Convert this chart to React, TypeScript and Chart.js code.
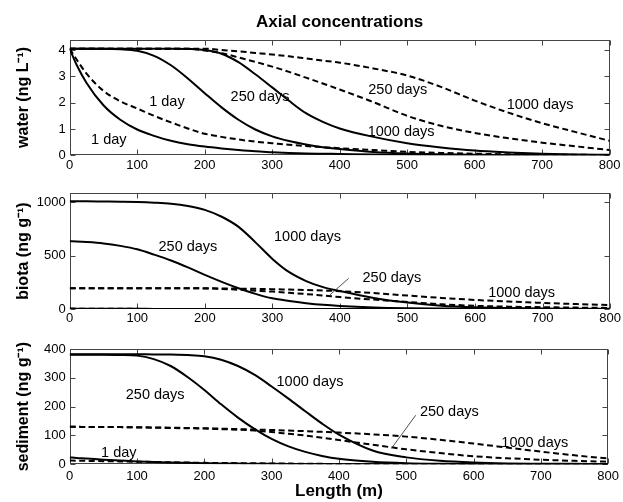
import React, { useEffect, useRef } from 'react';
import { Chart, registerables } from 'chart.js';

Chart.register(...registerables);

const FONT = '"Liberation Sans", Arial, Helvetica, sans-serif';

// Shared length grid (m)
const xGrid = [0, 10, 25, 50, 75, 100, 125, 150, 175, 200, 225, 250, 275, 300, 325, 350, 375, 400, 450, 500, 550, 600, 650, 700, 750, 800];
const xTickValues = [0, 100, 200, 300, 400, 500, 600, 700, 800];

// Water (ng L-1)
const water1DaySolid = [4.05, 3.45, 2.75, 1.9, 1.35, 0.98, 0.74, 0.55, 0.42, 0.33, 0.26, 0.2, 0.15, 0.12, 0.09, 0.07, 0.06, 0.05, 0.03, 0.02, 0.01, 0.01, 0, 0, 0, 0];
const water1DayDashed = [4.05, 3.65, 3.1, 2.45, 2.05, 1.78, 1.5, 1.25, 1.02, 0.82, 0.7, 0.6, 0.52, 0.46, 0.4, 0.35, 0.31, 0.27, 0.2, 0.13, 0.09, 0.06, 0.04, 0.03, 0.02, 0.01];
const water250Solid = [4.05, 4.05, 4.05, 4.05, 4.03, 3.97, 3.78, 3.42, 2.92, 2.36, 1.82, 1.35, 0.98, 0.72, 0.54, 0.41, 0.31, 0.24, 0.13, 0.07, 0.04, 0.02, 0.01, 0.005, 0, 0];
const water1000Solid = [4.05, 4.05, 4.05, 4.05, 4.05, 4.05, 4.05, 4.05, 4.04, 4.0, 3.86, 3.54, 3.08, 2.58, 2.07, 1.6, 1.27, 1.02, 0.7, 0.46, 0.3, 0.18, 0.11, 0.06, 0.03, 0.02];
const water250Dashed = [4.05, 4.05, 4.05, 4.05, 4.05, 4.05, 4.05, 4.05, 4.05, 3.98, 3.88, 3.72, 3.55, 3.37, 3.17, 2.95, 2.73, 2.5, 2.02, 1.5, 1.12, 0.85, 0.65, 0.48, 0.34, 0.2];
const water1000Dashed = [4.05, 4.05, 4.05, 4.05, 4.05, 4.05, 4.05, 4.05, 4.05, 4.05, 4.0, 3.95, 3.89, 3.83, 3.76, 3.68, 3.6, 3.52, 3.3, 3.03, 2.6, 2.08, 1.62, 1.22, 0.88, 0.55];
const waterTicks = [0, 1, 2, 3, 4];

// Biota (ng g-1)
const biota1DaySolid = [4, 3.5, 3, 2.5, 2, 1.5, 1, 0.8, 0.6, 0.5, 0.4, 0.3, 0.2, 0.2, 0.1, 0.1, 0, 0, 0, 0, 0, 0, 0, 0, 0, 0];
const biota1DayDashed = [2, 2, 1.8, 1.6, 1.4, 1.2, 1, 0.9, 0.8, 0.7, 0.6, 0.5, 0.4, 0.3, 0.3, 0.2, 0.2, 0.1, 0.1, 0, 0, 0, 0, 0, 0, 0];
const biota250Solid = [635, 633, 628, 615, 592, 560, 510, 455, 390, 320, 255, 195, 142, 100, 75, 55, 39, 28, 14, 7, 4, 2, 1, 0.5, 0, 0];
const biota1000Solid = [1010, 1010, 1010, 1008, 1006, 1003, 997, 987, 966, 930, 865, 770, 625, 470, 345, 262, 205, 168, 104, 60, 31, 16, 9, 5, 3, 2];
const biota250Dashed = [195, 195, 195, 195, 195, 195, 195, 195, 195, 193, 188, 181, 172, 163, 152, 140, 127, 112, 88, 66, 45, 30, 22, 17, 13, 10];
const biota1000Dashed = [195, 195, 195, 195, 195, 195, 195, 195, 195, 194, 193, 191, 189, 186, 182, 178, 173, 167, 150, 126, 104, 85, 70, 57, 46, 38];
const biotaTicks = [0, 500, 1000];

// Sediment (ng g-1)
const sed1DaySolid = [24, 22, 20, 16, 13, 10, 8, 6, 5, 4, 3, 2.5, 2, 1.5, 1.2, 1, 0.7, 0.5, 0.2, 0, 0, 0, 0, 0, 0, 0];
const sed1DayDashed = [13, 12.5, 12, 11, 10, 9, 8, 7, 6, 5, 4.5, 4, 3.5, 3, 2.5, 2, 1.5, 1, 0.5, 0, 0, 0, 0, 0, 0, 0];
const sed250Solid = [380, 380, 380, 380, 379, 377, 365, 341, 303, 258, 208, 162, 122, 88, 62, 43, 29, 19, 9, 4, 2, 1, 0.5, 0, 0, 0];
const sed1000Solid = [382, 382, 382, 382, 382, 382, 381, 381, 379, 375, 363, 341, 310, 270, 228, 184, 141, 103, 48, 24, 12, 6, 3, 2, 1.5, 1];
const sed250Dashed = [130, 130, 129.5, 129.5, 129, 128, 127, 126, 125, 124, 122, 120, 117, 112, 106, 100, 92, 84, 68, 52, 39, 28, 21, 16, 12, 9];
const sed1000Dashed = [130, 130, 129.5, 129.5, 129, 128.5, 128, 127, 126, 125, 123.5, 122, 120.5, 119, 117, 115, 112.5, 110, 104, 96, 85, 72, 58, 44, 31, 20];
const sedTicks = [0, 100, 200, 300, 400];

// Curve annotations (data coordinates)
const waterLabels = [
  { text: '1 day', x: 58, y: 0.58 },
  { text: '1 day', x: 144, y: 2.03 },
  { text: '250 days', x: 282, y: 2.22 },
  { text: '250 days', x: 486, y: 2.47 },
  { text: '1000 days', x: 697, y: 1.9 },
  { text: '1000 days', x: 491, y: 0.9 },
];
const biotaLabels = [
  { text: '250 days', x: 175, y: 584 },
  { text: '1000 days', x: 352, y: 672 },
  { text: '250 days', x: 477, y: 288 },
  { text: '1000 days', x: 669, y: 147 },
];
const sedLabels = [
  { text: '250 days', x: 127, y: 239 },
  { text: '1000 days', x: 357, y: 285 },
  { text: '250 days', x: 564, y: 181 },
  { text: '1000 days', x: 691, y: 75 },
  { text: '1 day', x: 73, y: 38 },
];
const biotaLeader = [[413, 288], [385, 131]];
const sedLeader = [[514, 170], [478, 55]];

type Lbl = { text: string; x: number; y: number };

function pts(arr: number[]) {
  return xGrid.map((x, i) => ({ x, y: arr[i] }));
}

function ds(arr: number[], dashed: boolean) {
  return {
    data: pts(arr),
    borderColor: '#000',
    borderWidth: 2,
    borderDash: dashed ? [6, 3.5] : [],
    pointRadius: 0,
    fill: false,
    cubicInterpolationMode: 'monotone' as const,
  };
}

function makePlugin(yTicks: number[], labels: Lbl[], leader: number[][] | null) {
  return {
    id: 'frameAndLabels',
    beforeDatasetsDraw(chart: any) {
      const { ctx, chartArea } = chart;
      const { left, right, top, bottom } = chartArea;
      const xs = chart.scales.x;
      const ys = chart.scales.y;
      ctx.save();
      ctx.strokeStyle = '#444';
      ctx.lineWidth = 1;
      const L = Math.round(left) + 0.5, R = Math.round(right) - 0.5;
      const T = Math.round(top) + 0.5, B = Math.round(bottom) - 0.5;
      ctx.strokeRect(L, T, R - L, B - T);
      ctx.beginPath();
      xTickValues.forEach((v) => {
        const px = Math.round(xs.getPixelForValue(v)) + 0.5;
        ctx.moveTo(px, B); ctx.lineTo(px, B - 5);
        ctx.moveTo(px, T); ctx.lineTo(px, T + 5);
      });
      yTicks.forEach((v) => {
        const py = Math.round(ys.getPixelForValue(v)) + 0.5;
        ctx.moveTo(L, py); ctx.lineTo(L + 5, py);
        ctx.moveTo(R, py); ctx.lineTo(R - 5, py);
      });
      ctx.stroke();
      ctx.restore();
    },
    afterDatasetsDraw(chart: any) {
      const { ctx } = chart;
      const xs = chart.scales.x;
      const ys = chart.scales.y;
      ctx.save();
      ctx.fillStyle = '#000';
      ctx.font = `14.5px ${FONT}`;
      ctx.textAlign = 'center';
      ctx.textBaseline = 'middle';
      labels.forEach((l) => {
        ctx.fillText(l.text, xs.getPixelForValue(l.x), ys.getPixelForValue(l.y));
      });
      if (leader) {
        ctx.strokeStyle = '#222';
        ctx.lineWidth = 0.8;
        ctx.beginPath();
        ctx.moveTo(xs.getPixelForValue(leader[0][0]), ys.getPixelForValue(leader[0][1]));
        ctx.lineTo(xs.getPixelForValue(leader[1][0]), ys.getPixelForValue(leader[1][1]));
        ctx.stroke();
      }
      ctx.restore();
    },
  };
}

interface PanelCfg {
  series: { arr: number[]; dashed: boolean }[];
  yMax: number;
  yTicks: number[];
  yTitle: string;
  padTop: number;
  xHeight: number;
  xTickPad: number;
  title?: string;
  xTitle?: string;
  labels: Lbl[];
  leader: number[][] | null;
}

function makeConfig(p: PanelCfg): any {
  return {
    type: 'line',
    data: { datasets: p.series.map((s) => ds(s.arr, s.dashed)) },
    plugins: [makePlugin(p.yTicks, p.labels, p.leader)],
    options: {
      responsive: false,
      animation: false,
      events: [],
      layout: { padding: { left: 0, right: 12.3, top: p.padTop, bottom: 0 } },
      plugins: {
        legend: { display: false },
        tooltip: { enabled: false },
        title: p.title
          ? {
              display: true,
              text: p.title,
              color: '#000',
              fullSize: false,
              font: { family: FONT, size: 17, weight: 'bold' },
              padding: { top: 12, bottom: 7.1 },
            }
          : { display: false },
      },
      scales: {
        x: {
          type: 'linear',
          min: 0,
          max: 800,
          afterBuildTicks: (s: any) => {
            s.ticks = xTickValues.map((v) => ({ value: v }));
          },
          afterFit: (s: any) => {
            s.height = p.xHeight;
          },
          grid: { display: false, drawTicks: false },
          border: { display: false },
          ticks: {
            color: '#000',
            font: { family: FONT, size: 13 },
            padding: p.xTickPad,
            maxRotation: 0,
            autoSkip: false,
            callback: (v: any) => String(v),
          },
          title: p.xTitle
            ? {
                display: true,
                text: p.xTitle,
                color: '#000',
                font: { family: FONT, size: 17, weight: 'bold' },
                padding: { top: 0, bottom: 0 },
              }
            : { display: false },
        },
        y: {
          type: 'linear',
          min: 0,
          max: p.yMax,
          afterBuildTicks: (s: any) => {
            s.ticks = p.yTicks.map((v) => ({ value: v }));
          },
          afterFit: (s: any) => {
            s.width = 69.7;
          },
          grid: { display: false, drawTicks: false },
          border: { display: false },
          ticks: {
            color: '#000',
            font: { family: FONT, size: 13 },
            padding: 4,
            callback: (v: any) => String(v),
          },
          title: {
            display: true,
            text: p.yTitle,
            color: '#000',
            font: { family: FONT, size: 16, weight: 'bold' },
            padding: { top: 14.4, bottom: 0 },
          },
        },
      },
    },
  };
}

export default function App() {
  const r1 = useRef<HTMLCanvasElement>(null);
  const r2 = useRef<HTMLCanvasElement>(null);
  const r3 = useRef<HTMLCanvasElement>(null);

  useEffect(() => {
    const c1 = new Chart(
      r1.current!,
      makeConfig({
        series: [
          { arr: water1DaySolid, dashed: false },
          { arr: water1DayDashed, dashed: true },
          { arr: water250Solid, dashed: false },
          { arr: water1000Solid, dashed: false },
          { arr: water250Dashed, dashed: true },
          { arr: water1000Dashed, dashed: true },
        ],
        yMax: 4.4,
        yTicks: waterTicks,
        yTitle: 'water (ng L⁻¹)',
        padTop: 0,
        xHeight: 22.7,
        xTickPad: 2.5,
        title: 'Axial concentrations',
        labels: waterLabels,
        leader: null,
      })
    );
    const c2 = new Chart(
      r2.current!,
      makeConfig({
        series: [
          { arr: biota1DaySolid, dashed: false },
          { arr: biota1DayDashed, dashed: true },
          { arr: biota250Solid, dashed: false },
          { arr: biota1000Solid, dashed: false },
          { arr: biota250Dashed, dashed: true },
          { arr: biota1000Dashed, dashed: true },
        ],
        yMax: 1085,
        yTicks: biotaTicks,
        yTitle: 'biota (ng g⁻¹)',
        padTop: 15.3,
        xHeight: 21,
        xTickPad: 2,
        labels: biotaLabels,
        leader: biotaLeader,
      })
    );
    const c3 = new Chart(
      r3.current!,
      makeConfig({
        series: [
          { arr: sed1DaySolid, dashed: false },
          { arr: sed1DayDashed, dashed: true },
          { arr: sed250Solid, dashed: false },
          { arr: sed1000Solid, dashed: false },
          { arr: sed250Dashed, dashed: true },
          { arr: sed1000Dashed, dashed: true },
        ],
        yMax: 400,
        yTicks: sedTicks,
        yTitle: 'sediment (ng g⁻¹)',
        padTop: 19,
        xHeight: 37.7,
        xTickPad: 4,
        xTitle: 'Length (m)',
        labels: sedLabels,
        leader: sedLeader,
      })
    );
    return () => {
      c1.destroy();
      c2.destroy();
      c3.destroy();
    };
  }, []);

  return (
    <div style={{ position: 'absolute', left: 0, top: 0, width: 623, height: 502, background: '#fff' }}>
      <canvas ref={r1} width={623} height={178} style={{ position: 'absolute', left: 0, top: 0 }} />
      <canvas ref={r2} width={623} height={152} style={{ position: 'absolute', left: 0, top: 178 }} />
      <canvas ref={r3} width={623} height={172} style={{ position: 'absolute', left: 0, top: 330 }} />
    </div>
  );
}
